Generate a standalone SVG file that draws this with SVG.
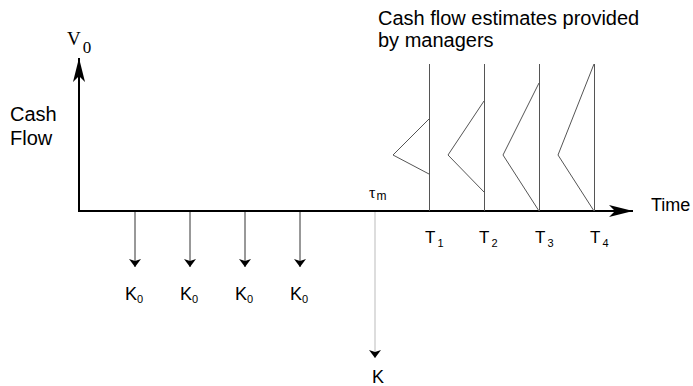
<svg xmlns="http://www.w3.org/2000/svg" width="693" height="386" viewBox="0 0 693 386">
<style>
.t{font-family:"Liberation Sans",Arial,sans-serif;font-size:20px;fill:#000}
.m{font-family:"Liberation Sans",Arial,sans-serif;font-size:18px;fill:#000}
.s{font-family:"Liberation Sans",Arial,sans-serif;font-size:11px;fill:#000}
.ax{stroke:#000;stroke-width:2;fill:none}
.tl{stroke:#555;stroke-width:1;fill:none}
.dn{stroke:#333;stroke-width:1}
</style>
<defs>
<marker id="big" viewBox="0 0 24 12" refX="24" refY="6" markerWidth="24" markerHeight="12" markerUnits="userSpaceOnUse" orient="auto"><path d="M0,0 L24,6 L0,12 L6,6 Z" fill="#000"/></marker>
<marker id="sm" viewBox="0 0 8 12" refX="8" refY="6" markerWidth="8" markerHeight="12" markerUnits="userSpaceOnUse" orient="auto"><path d="M0,0 L8,6 L0,12 L2,6 Z" fill="#000"/></marker>
</defs>
<rect width="693" height="386" fill="#fff"/>
<g id="connectors">
<line class="ax" x1="79" y1="211" x2="79" y2="58" marker-end="url(#big)"/>
<line class="ax" x1="78" y1="211" x2="633" y2="211" marker-end="url(#big)"/>
<line class="dn" x1="135" y1="212" x2="135" y2="267" marker-end="url(#sm)"/>
<line class="dn" x1="190" y1="212" x2="190" y2="267" marker-end="url(#sm)"/>
<line class="dn" x1="245" y1="212" x2="245" y2="267" marker-end="url(#sm)"/>
<line class="dn" x1="300" y1="212" x2="300" y2="267" marker-end="url(#sm)"/>
<line x1="375" y1="212" x2="375" y2="358" stroke="#bbb" stroke-width="1" marker-end="url(#sm)"/>
</g>
<g id="estimates">
<line class="tl" x1="429.5" y1="64" x2="429.5" y2="211"/>
<line class="tl" x1="484.5" y1="64" x2="484.5" y2="211"/>
<line class="tl" x1="539.5" y1="64" x2="539.5" y2="211"/>
<line class="tl" x1="594.5" y1="64" x2="594.5" y2="211"/>
<polyline class="tl" points="429,119 393,155 429,174"/>
<polyline class="tl" points="484,101 448,155 484,192"/>
<polyline class="tl" points="539,83 503,155 539,211"/>
<polyline class="tl" points="594,64 558,155 594,211"/>
</g>
<g id="labels">
<text x="67" y="45" font-family="'Liberation Serif',serif" font-size="19">V<tspan font-size="17" dy="8" dx="2">0</tspan></text>
<text class="t" x="10" y="121">Cash</text>
<text class="t" x="10" y="145">Flow</text>
<text class="t" x="378" y="25">Cash flow estimates provided</text>
<text class="t" x="378" y="47">by managers</text>
<text class="m" x="651" y="211">Time</text>
<text x="369" y="198" font-family="'Liberation Serif',serif" font-size="16">τ<tspan font-family="'Liberation Sans',Arial,sans-serif" font-size="12" dy="2" dx="1">m</tspan></text>
<text x="425" y="243" font-family="'Liberation Sans',Arial,sans-serif" font-size="17">T<tspan class="s" dy="4" dx="2">1</tspan></text>
<text x="479" y="243" font-family="'Liberation Sans',Arial,sans-serif" font-size="17">T<tspan class="s" dy="4" dx="2">2</tspan></text>
<text x="535" y="243" font-family="'Liberation Sans',Arial,sans-serif" font-size="17">T<tspan class="s" dy="4" dx="2">3</tspan></text>
<text x="590" y="243" font-family="'Liberation Sans',Arial,sans-serif" font-size="17">T<tspan class="s" dy="4" dx="2">4</tspan></text>
<text class="m" x="125" y="300">K<tspan class="s" dy="3">0</tspan></text>
<text class="m" x="180" y="300">K<tspan class="s" dy="3">0</tspan></text>
<text class="m" x="235" y="300">K<tspan class="s" dy="3">0</tspan></text>
<text class="m" x="290" y="300">K<tspan class="s" dy="3">0</tspan></text>
<text class="m" x="372" y="383">K</text>
</g>
</svg>
